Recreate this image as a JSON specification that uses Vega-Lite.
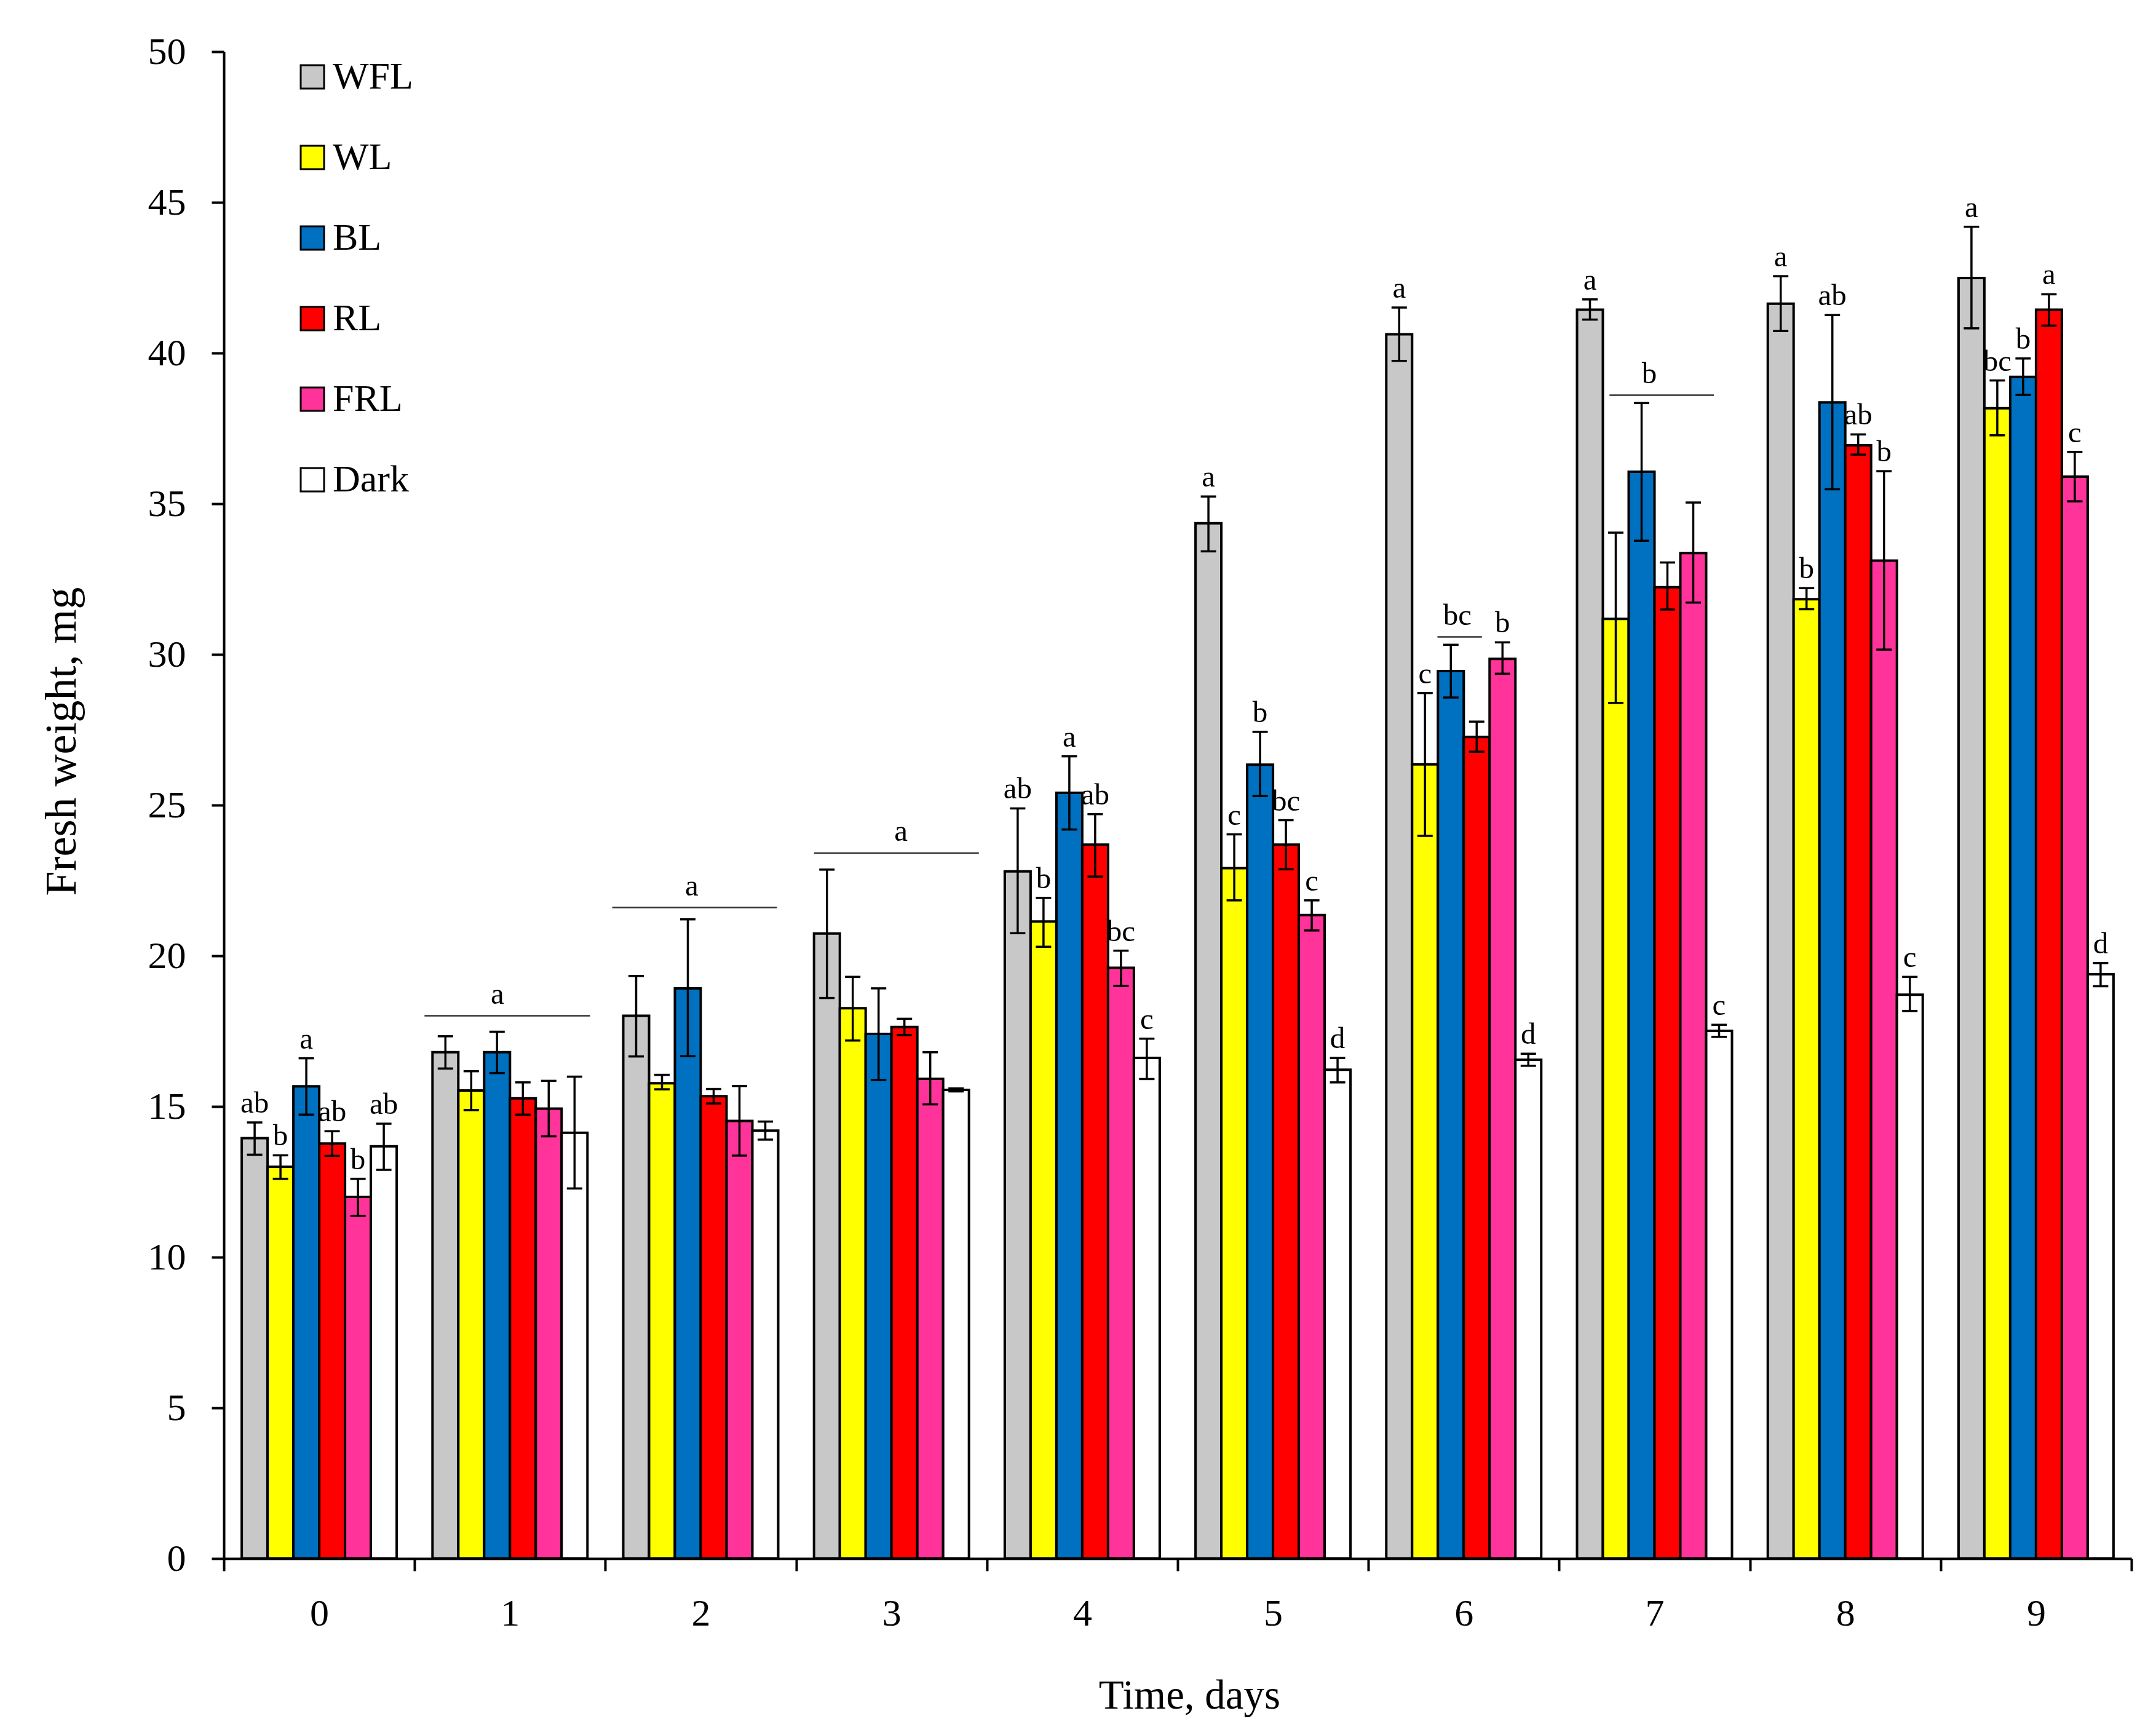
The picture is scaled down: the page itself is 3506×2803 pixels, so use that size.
{
  "$schema": "https://vega.github.io/schema/vega-lite/v6.json",
  "width": 3102,
  "height": 2450,
  "autosize": {"type": "none"},
  "padding": {"left": 364, "top": 84, "right": 40, "bottom": 269},
  "background": "white",
  "config": {
    "font": "Liberation Serif",
    "view": {"stroke": null},
    "axis": {
      "domainColor": "black",
      "domainWidth": 4,
      "tickColor": "black",
      "tickWidth": 4,
      "tickSize": 20,
      "labelColor": "black",
      "labelFontSize": 62,
      "titleColor": "black",
      "titleFontWeight": "normal",
      "grid": false
    }
  },
  "datasets": {
    "bars": [
      {"day": 0, "trt": "WFL", "mean": 13.95, "lo": 13.40, "hi": 14.47, "label": "ab"},
      {"day": 0, "trt": "WL", "mean": 13.00, "lo": 12.60, "hi": 13.38, "label": "b"},
      {"day": 0, "trt": "BL", "mean": 15.67, "lo": 14.73, "hi": 16.60, "label": "a"},
      {"day": 0, "trt": "RL", "mean": 13.77, "lo": 13.36, "hi": 14.18, "label": "ab"},
      {"day": 0, "trt": "FRL", "mean": 12.00, "lo": 11.37, "hi": 12.60, "label": "b"},
      {"day": 0, "trt": "Dark", "mean": 13.68, "lo": 12.90, "hi": 14.43, "label": "ab"},
      {"day": 1, "trt": "WFL", "mean": 16.80, "lo": 16.26, "hi": 17.33, "label": ""},
      {"day": 1, "trt": "WL", "mean": 15.53, "lo": 14.88, "hi": 16.17, "label": ""},
      {"day": 1, "trt": "BL", "mean": 16.80, "lo": 16.11, "hi": 17.48, "label": ""},
      {"day": 1, "trt": "RL", "mean": 15.27, "lo": 14.73, "hi": 15.80, "label": ""},
      {"day": 1, "trt": "FRL", "mean": 14.93, "lo": 14.01, "hi": 15.85, "label": ""},
      {"day": 1, "trt": "Dark", "mean": 14.13, "lo": 12.28, "hi": 15.99, "label": ""},
      {"day": 2, "trt": "WFL", "mean": 18.01, "lo": 16.66, "hi": 19.33, "label": ""},
      {"day": 2, "trt": "WL", "mean": 15.77, "lo": 15.57, "hi": 16.05, "label": ""},
      {"day": 2, "trt": "BL", "mean": 18.92, "lo": 16.67, "hi": 21.21, "label": ""},
      {"day": 2, "trt": "RL", "mean": 15.34, "lo": 15.10, "hi": 15.58, "label": ""},
      {"day": 2, "trt": "FRL", "mean": 14.52, "lo": 13.37, "hi": 15.68, "label": ""},
      {"day": 2, "trt": "Dark", "mean": 14.20, "lo": 13.90, "hi": 14.50, "label": ""},
      {"day": 3, "trt": "WFL", "mean": 20.74, "lo": 18.60, "hi": 22.86, "label": ""},
      {"day": 3, "trt": "WL", "mean": 18.26, "lo": 17.19, "hi": 19.30, "label": ""},
      {"day": 3, "trt": "BL", "mean": 17.41, "lo": 15.88, "hi": 18.92, "label": ""},
      {"day": 3, "trt": "RL", "mean": 17.64, "lo": 17.37, "hi": 17.91, "label": ""},
      {"day": 3, "trt": "FRL", "mean": 15.92, "lo": 15.07, "hi": 16.80, "label": ""},
      {"day": 3, "trt": "Dark", "mean": 15.55, "lo": 15.50, "hi": 15.60, "label": ""},
      {"day": 4, "trt": "WFL", "mean": 22.80, "lo": 20.75, "hi": 24.89, "label": "ab"},
      {"day": 4, "trt": "WL", "mean": 21.14, "lo": 20.30, "hi": 21.92, "label": "b"},
      {"day": 4, "trt": "BL", "mean": 25.41, "lo": 24.19, "hi": 26.62, "label": "a"},
      {"day": 4, "trt": "RL", "mean": 23.69, "lo": 22.63, "hi": 24.70, "label": "ab"},
      {"day": 4, "trt": "FRL", "mean": 19.60, "lo": 19.00, "hi": 20.17, "label": "bc"},
      {"day": 4, "trt": "Dark", "mean": 16.61, "lo": 15.91, "hi": 17.25, "label": "c"},
      {"day": 5, "trt": "WFL", "mean": 34.35, "lo": 33.42, "hi": 35.24, "label": "a"},
      {"day": 5, "trt": "WL", "mean": 22.91, "lo": 21.84, "hi": 24.03, "label": "c"},
      {"day": 5, "trt": "BL", "mean": 26.34, "lo": 25.30, "hi": 27.43, "label": "b"},
      {"day": 5, "trt": "RL", "mean": 23.69, "lo": 22.87, "hi": 24.50, "label": "bc"},
      {"day": 5, "trt": "FRL", "mean": 21.35, "lo": 20.84, "hi": 21.84, "label": "c"},
      {"day": 5, "trt": "Dark", "mean": 16.22, "lo": 15.80, "hi": 16.61, "label": "d"},
      {"day": 6, "trt": "WFL", "mean": 40.62, "lo": 39.74, "hi": 41.51, "label": "a"},
      {"day": 6, "trt": "WL", "mean": 26.35, "lo": 23.98, "hi": 28.72, "label": "c"},
      {"day": 6, "trt": "BL", "mean": 29.45, "lo": 28.57, "hi": 30.32, "label": ""},
      {"day": 6, "trt": "RL", "mean": 27.26, "lo": 26.77, "hi": 27.77, "label": ""},
      {"day": 6, "trt": "FRL", "mean": 29.85, "lo": 29.36, "hi": 30.40, "label": "b"},
      {"day": 6, "trt": "Dark", "mean": 16.55, "lo": 16.35, "hi": 16.75, "label": "d"},
      {"day": 7, "trt": "WFL", "mean": 41.44, "lo": 41.11, "hi": 41.78, "label": "a"},
      {"day": 7, "trt": "WL", "mean": 31.18, "lo": 28.39, "hi": 34.04, "label": ""},
      {"day": 7, "trt": "BL", "mean": 36.06, "lo": 33.77, "hi": 38.34, "label": ""},
      {"day": 7, "trt": "RL", "mean": 32.23, "lo": 31.49, "hi": 33.05, "label": ""},
      {"day": 7, "trt": "FRL", "mean": 33.36, "lo": 31.72, "hi": 35.04, "label": ""},
      {"day": 7, "trt": "Dark", "mean": 17.51, "lo": 17.31, "hi": 17.71, "label": "c"},
      {"day": 8, "trt": "WFL", "mean": 41.64, "lo": 40.73, "hi": 42.55, "label": "a"},
      {"day": 8, "trt": "WL", "mean": 31.83, "lo": 31.50, "hi": 32.20, "label": "b"},
      {"day": 8, "trt": "BL", "mean": 38.36, "lo": 35.48, "hi": 41.26, "label": "ab"},
      {"day": 8, "trt": "RL", "mean": 36.94, "lo": 36.63, "hi": 37.30, "label": "ab"},
      {"day": 8, "trt": "FRL", "mean": 33.11, "lo": 30.16, "hi": 36.08, "label": "b"},
      {"day": 8, "trt": "Dark", "mean": 18.71, "lo": 18.17, "hi": 19.30, "label": "c"},
      {"day": 9, "trt": "WFL", "mean": 42.49, "lo": 40.82, "hi": 44.19, "label": "a"},
      {"day": 9, "trt": "WL", "mean": 38.17, "lo": 37.27, "hi": 39.09, "label": "bc"},
      {"day": 9, "trt": "BL", "mean": 39.21, "lo": 38.61, "hi": 39.82, "label": "b"},
      {"day": 9, "trt": "RL", "mean": 41.44, "lo": 40.91, "hi": 41.95, "label": "a"},
      {"day": 9, "trt": "FRL", "mean": 35.90, "lo": 35.08, "hi": 36.72, "label": "c"},
      {"day": 9, "trt": "Dark", "mean": 19.39, "lo": 18.99, "hi": 19.76, "label": "d"}
    ],
    "groups": [
      {"from": 1.052, "to": 1.920, "y": 18.01, "mid": 1.434, "label": "a"},
      {"from": 2.036, "to": 2.900, "y": 21.60, "mid": 2.453, "label": "a"},
      {"from": 3.094, "to": 3.958, "y": 23.41, "mid": 3.550, "label": "a"},
      {"from": 6.362, "to": 6.595, "y": 30.58, "mid": 6.466, "label": "bc"},
      {"from": 7.264, "to": 7.811, "y": 38.60, "mid": 7.473, "label": "b"}
    ]
  },
  "layer": [
    {
      "data": {"name": "bars"},
      "encoding": {
        "x": {
          "field": "day",
          "type": "ordinal",
          "scale": {"paddingInner": 0, "paddingOuter": 0},
          "axis": {
            "title": "Time, days",
            "titleFontSize": 67,
            "titleX": 1570,
            "titleY": 243,
            "titleAlign": "center",
            "titleBaseline": "alphabetic",
            "labelAngle": 0,
            "labelBaseline": "alphabetic",
            "labelPadding": 88,
            "tickBand": "extent"
          }
        },
        "xOffset": {
          "field": "trt",
          "type": "nominal",
          "scale": {
            "domain": ["WFL", "WL", "BL", "RL", "FRL", "Dark"],
            "paddingInner": 0,
            "paddingOuter": 0.693
          }
        }
      },
      "layer": [
        {
          "mark": {"type": "bar", "stroke": "black", "strokeWidth": 4, "opacity": 1},
          "encoding": {
            "y": {
              "field": "mean",
              "type": "quantitative",
              "scale": {"domain": [0, 50], "nice": false},
              "axis": {
                "values": [0, 5, 10, 15, 20, 25, 30, 35, 40, 45, 50],
                "title": "Fresh weight, mg",
                "titleFontSize": 72,
                "titleX": -242,
                "titleY": 1121,
                "titleAngle": -90,
                "titleAlign": "center",
                "titleBaseline": "alphabetic",
                "labelPadding": 42
              }
            },
            "color": {
              "field": "trt",
              "type": "nominal",
              "scale": {
                "domain": ["WFL", "WL", "BL", "RL", "FRL", "Dark"],
                "range": ["#C8C8C8", "#FFFF00", "#0070C0", "#FF0000", "#FF3399", "#FFFFFF"]
              },
              "legend": {
                "orient": "none",
                "legendX": 113,
                "legendY": 10,
                "title": null,
                "padding": 0,
                "symbolType": "square",
                "symbolSize": 1444,
                "symbolStrokeColor": "black",
                "symbolStrokeWidth": 3,
                "symbolOpacity": 1,
                "labelFontSize": 62,
                "labelColor": "black",
                "labelOffset": 2,
                "rowPadding": 69
              }
            }
          }
        },
        {
          "mark": {"type": "rule", "color": "black", "strokeWidth": 3.5},
          "encoding": {
            "y": {"field": "lo", "type": "quantitative"},
            "y2": {"field": "hi"}
          }
        },
        {
          "mark": {"type": "tick", "color": "black", "thickness": 3.5, "size": 25, "orient": "horizontal", "opacity": 1},
          "encoding": {"y": {"field": "lo", "type": "quantitative"}}
        },
        {
          "mark": {"type": "tick", "color": "black", "thickness": 3.5, "size": 25, "orient": "horizontal", "opacity": 1},
          "encoding": {"y": {"field": "hi", "type": "quantitative"}}
        },
        {
          "transform": [{"filter": "datum.label != ''"}],
          "mark": {"type": "text", "baseline": "alphabetic", "align": "center", "dy": -16, "fontSize": 49, "color": "black"},
          "encoding": {
            "y": {"field": "hi", "type": "quantitative"},
            "text": {"field": "label"}
          }
        }
      ]
    },
    {
      "data": {"name": "groups"},
      "layer": [
        {
          "mark": {"type": "rule", "color": "#333333", "strokeWidth": 2.5},
          "encoding": {
            "x": {"field": "from", "type": "quantitative", "scale": {"domain": [0, 10], "nice": false, "zero": false}, "axis": null},
            "x2": {"field": "to"},
            "y": {"field": "y", "type": "quantitative"}
          }
        },
        {
          "mark": {"type": "text", "baseline": "alphabetic", "align": "center", "dy": -20, "fontSize": 49, "color": "black"},
          "encoding": {
            "x": {"field": "mid", "type": "quantitative", "scale": {"domain": [0, 10], "nice": false, "zero": false}, "axis": null},
            "y": {"field": "y", "type": "quantitative"},
            "text": {"field": "label"}
          }
        }
      ]
    }
  ],
  "resolve": {"scale": {"x": "independent"}}
}
